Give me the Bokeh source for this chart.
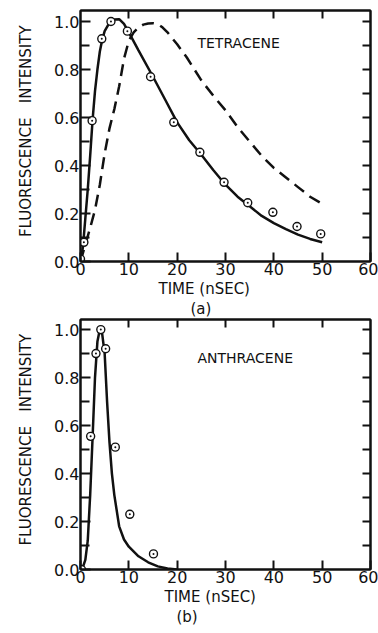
from bokeh.plotting import figure
from bokeh.layouts import column
from bokeh.models import Range1d, LinearAxis, FixedTicker, Title, NumeralTickFormatter
from bokeh.core.properties import value
from bokeh.embed import file_html
from bokeh.resources import INLINE

# ---------------- data ----------------
# (a) Tetracene: fitted curve (solid), second curve (dashed), measured points
tet_fit_t = [0, 0.5, 1, 1.5, 2, 2.5, 3, 3.5, 4, 4.5, 5, 6, 7, 8, 9, 10, 12, 15, 17.5,
             20, 22.5, 25, 27.5, 30, 32.5, 35, 37.5, 40, 42.5, 45, 47.5, 50]
tet_fit_i = [0, 0.06, 0.18, 0.30, 0.44, 0.59, 0.71, 0.80, 0.875, 0.925, 0.96, 0.995,
             1.008, 1.01, 0.99, 0.955, 0.88, 0.77, 0.675, 0.58, 0.505, 0.445, 0.38,
             0.32, 0.27, 0.23, 0.19, 0.16, 0.135, 0.112, 0.094, 0.08]
tet_dash_t = [0, 1, 2, 3, 4, 5, 6, 7, 8, 9, 10, 11, 12, 13, 14, 15, 16, 17, 18, 19, 20,
              22, 25, 27.5, 30, 32.5, 35, 37.5, 40, 42.5, 45, 47.5, 50]
tet_dash_i = [0, 0.07, 0.14, 0.215, 0.32, 0.45, 0.555, 0.635, 0.73, 0.845, 0.92, 0.955,
              0.975, 0.987, 0.992, 0.993, 0.99, 0.975, 0.955, 0.93, 0.905, 0.85, 0.755,
              0.69, 0.63, 0.56, 0.50, 0.44, 0.39, 0.35, 0.31, 0.27, 0.24]
tet_obs_t = [0, 0.7, 2.4, 4.4, 6.3, 9.7, 14.5, 19.3, 24.7, 29.7, 34.6, 39.8, 44.8, 49.7]
tet_obs_i = [0.01, 0.08, 0.587, 0.928, 1.0, 0.96, 0.77, 0.58, 0.455, 0.33, 0.245,
             0.205, 0.146, 0.115]

# (b) Anthracene: fitted curve (solid) and measured points
ant_fit_t = [0, 0.5, 1, 1.5, 2, 2.5, 3, 3.5, 4, 4.5, 5, 5.5, 6, 6.5, 7, 8, 9, 10, 12,
             14, 16, 18, 20]
ant_fit_i = [0, 0.01, 0.04, 0.12, 0.31, 0.55, 0.80, 0.95, 1.0, 0.98, 0.90, 0.70, 0.53,
             0.40, 0.31, 0.18, 0.125, 0.095, 0.055, 0.03, 0.013, 0.004, 0.0]
ant_obs_t = [0.2, 2.1, 3.2, 4.2, 5.2, 7.2, 10.2, 15.1]
ant_obs_i = [0.0, 0.555, 0.90, 1.0, 0.92, 0.51, 0.23, 0.065]

x_ticks = [0, 10, 20, 30, 40, 50, 60]
x_top_ticks = [10, 20, 30, 40, 50]
y_ticks = [0.0, 0.2, 0.4, 0.6, 0.8, 1.0]
y_minor = [0.1, 0.3, 0.5, 0.7, 0.9]
y_right_ticks = [0.1, 0.2, 0.3, 0.4, 0.5, 0.6, 0.7, 0.8, 0.9, 1.0]

FONT = "DejaVu Sans"
INK = "#111111"
NB = "\u00a0"


def tick_only_axis(ticks):
    return LinearAxis(ticker=FixedTicker(ticks=ticks),
                      major_label_overrides={t: "" for t in ticks},
                      major_label_text_color=None,
                      major_label_text_font_size="1px", major_label_standoff=0,
                      major_tick_in=8, major_tick_out=0,
                      minor_tick_in=0, minor_tick_out=0,
                      axis_line_width=2, major_tick_line_width=2,
                      axis_line_color=INK, major_tick_line_color=INK)


def make_panel(frame_h, y_end, border_top, name, name_x, name_y,
               time_offset, tag, tag_offset):
    p = figure(width=378, frame_height=frame_h,
               x_range=Range1d(0, 60), y_range=Range1d(0, y_end),
               output_backend="svg", toolbar_location=None,
               min_border_left=80, min_border_right=8,
               min_border_top=border_top, min_border_bottom=0,
               x_axis_label=None,
               y_axis_label=NB + NB + "FLUORESCENCE" + NB * 3 + "INTENSITY")
    p.grid.visible = False
    p.outline_line_color = INK
    p.outline_line_width = 2
    p.background_fill_color = "white"
    p.border_fill_color = "white"

    # bottom axis
    xa = p.xaxis[0]
    xa.ticker = FixedTicker(ticks=x_ticks)
    xa.major_tick_in = 9
    xa.major_tick_out = 0
    xa.minor_tick_in = 0
    xa.minor_tick_out = 0
    xa.major_label_standoff = 1
    xa.major_label_text_font = FONT
    xa.major_label_text_font_size = "16px"
    xa.major_label_text_color = INK
    xa.axis_line_width = 2
    xa.major_tick_line_width = 2
    xa.axis_line_color = INK
    xa.major_tick_line_color = INK

    # left axis
    ya = p.yaxis[0]
    ya.ticker = FixedTicker(ticks=y_ticks, minor_ticks=y_minor)
    ya.formatter = NumeralTickFormatter(format="0.0")
    ya.major_tick_in = 10
    ya.major_tick_out = 0
    ya.minor_tick_in = 9
    ya.minor_tick_out = 0
    ya.major_label_standoff = 1
    ya.major_label_text_font = FONT
    ya.major_label_text_font_size = "16px"
    ya.major_label_text_color = INK
    ya.axis_label_text_font = FONT
    ya.axis_label_text_font_size = "15px"
    ya.axis_label_text_font_style = "normal"
    ya.axis_label_text_color = INK
    ya.axis_label_standoff = 16
    ya.axis_line_width = 2
    ya.major_tick_line_width = 2
    ya.minor_tick_line_width = 2
    ya.axis_line_color = INK
    ya.major_tick_line_color = INK
    ya.minor_tick_line_color = INK

    # top and right tick-only axes
    p.add_layout(tick_only_axis(x_top_ticks), "above")
    p.add_layout(tick_only_axis(y_right_ticks), "right")

    p.add_layout(Title(text="TIME (nSEC)", align="left", offset=time_offset,
                       text_font=FONT, text_font_size="15px",
                       text_font_style="normal", text_color=INK, standoff=0),
                 "below")
    p.add_layout(Title(text=tag, align="left", offset=tag_offset,
                       text_font=FONT, text_font_size="15px",
                       text_font_style="normal", text_color=INK, standoff=0),
                 "below")

    p.text(x=[name_x], y=[name_y], text=[name], text_font_size="14px",
           text_font=value(FONT), text_color=INK, text_baseline="middle",
           text_align="left")
    return p


p1 = make_panel(251, 1.046, 10, "TETRACENE", 24.2, 0.91, 78, "(a)", 110)
p1.line(tet_dash_t, tet_dash_i, line_color=INK, line_width=2.5, line_dash="12 7")
p1.line(tet_fit_t, tet_fit_i, line_color=INK, line_width=2.5)
p1.scatter(tet_obs_t, tet_obs_i, marker="circle_dot", size=8, fill_color="white",
           line_color=INK, line_width=1.4)

p2 = make_panel(250, 1.042, 2, "ANTHRACENE", 24.2, 0.88, 84, "(b)", 96)
p2.line(ant_fit_t, ant_fit_i, line_color=INK, line_width=2.5)
p2.scatter(ant_obs_t, ant_obs_i, marker="circle_dot", size=8, fill_color="white",
           line_color=INK, line_width=1.4)

layout = column(p1, p2)
open("out.html", "w").write(file_html(layout, INLINE))
